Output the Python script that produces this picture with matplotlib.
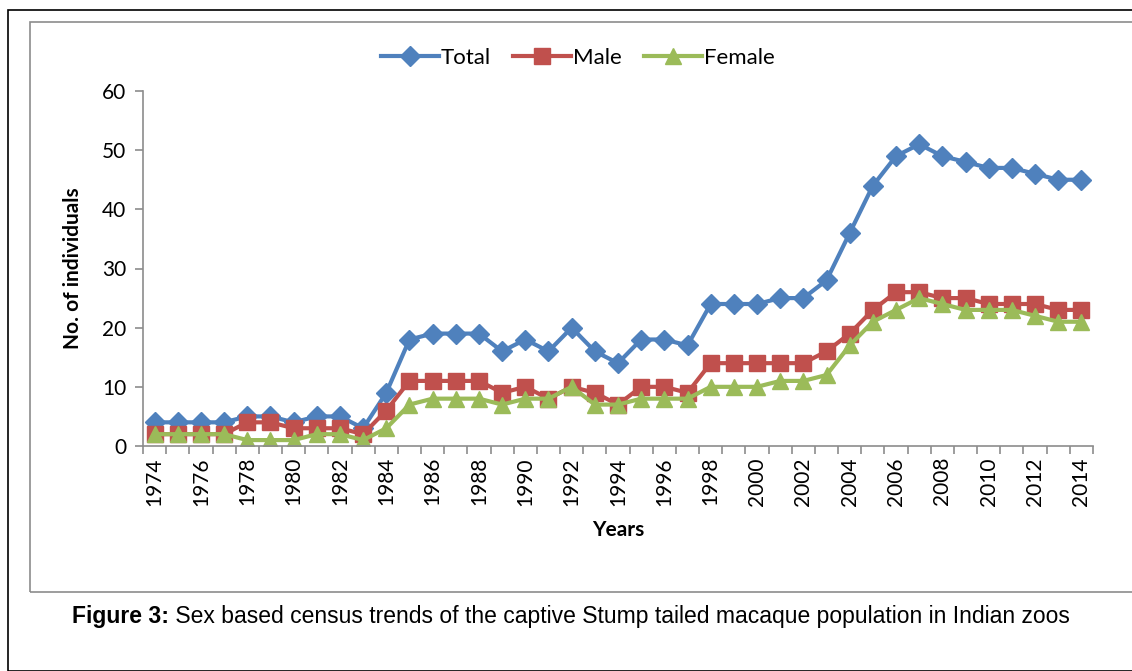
import matplotlib
matplotlib.use("Agg")
import matplotlib.pyplot as plt
from matplotlib.patches import Rectangle

# census data
years = list(range(1974, 2015))
total = [4, 4, 4, 4, 5, 5, 4, 5, 5, 3, 9, 18, 19, 19, 19, 16, 18, 16, 20, 16, 14,
         18, 18, 17, 24, 24, 24, 25, 25, 28, 36, 44, 49, 51, 49, 48, 47, 47, 46, 45, 45]
male = [2, 2, 2, 2, 4, 4, 3, 3, 3, 2, 6, 11, 11, 11, 11, 9, 10, 8, 10, 9, 7,
        10, 10, 9, 14, 14, 14, 14, 14, 16, 19, 23, 26, 26, 25, 25, 24, 24, 24, 23, 23]
female = [2, 2, 2, 2, 1, 1, 1, 2, 2, 1, 3, 7, 8, 8, 8, 7, 8, 8, 10, 7, 7,
          8, 8, 8, 10, 10, 10, 11, 11, 12, 17, 21, 23, 25, 24, 23, 23, 23, 22, 21, 21]
yticks = [0, 10, 20, 30, 40, 50, 60]

W, H = 1132, 671
plt.rcParams['font.family'] = ['Lato', 'DejaVu Sans']

fig = plt.figure(figsize=(W / 100, H / 100), dpi=100)

# outer frame and chart area frame
fig.patches.append(Rectangle((8 / W, 0), 1.2, (H - 10) / H, transform=fig.transFigure,
                             fill=False, edgecolor='black', linewidth=1.2))
fig.patches.append(Rectangle((30 / W, (H - 592) / H), 1.2, (592 - 22) / H,
                             transform=fig.transFigure, fill=False,
                             edgecolor='#8c8c8c', linewidth=1.2))

ax = fig.add_axes([143 / W, (H - 446) / H, (1093 - 143) / W, (446 - 91) / H])

ax.plot(years, total, color='#4F81BD', marker='D', markersize=10, linewidth=3, label='Total')
ax.plot(years, male, color='#C0504D', marker='s', markersize=11, linewidth=3, label='Male')
ax.plot(years, female, color='#9BBB59', marker='^', markersize=12, linewidth=3, label='Female')

ax.set_xlim(years[0] - 0.5, years[-1] + 0.5)
ax.set_ylim(0, 60)
ax.set_yticks(yticks)
ax.set_xticks([y - 0.5 for y in years] + [years[-1] + 0.5], minor=True)
ax.set_xticks(years[::2])
ax.set_xticklabels([str(y) for y in years[::2]], rotation=90, fontsize=15)
ax.tick_params(axis='x', which='major', length=0, pad=8)
ax.tick_params(axis='x', which='minor', length=6, color='#8c8c8c', width=1.2)
ax.tick_params(axis='y', length=6, color='#8c8c8c', width=1.2, labelsize=15, pad=6)

for s in ['top', 'right']:
    ax.spines[s].set_visible(False)
for s in ['left', 'bottom']:
    ax.spines[s].set_color('#8c8c8c')
    ax.spines[s].set_linewidth(1.2)

ax.set_ylabel('No. of individuals', fontsize=15, fontweight='bold', labelpad=14)
ax.set_xlabel('Years', fontsize=15, fontweight='bold', labelpad=10)

ax.legend(loc='center', bbox_to_anchor=(578 / W, (H - 58) / H), bbox_transform=fig.transFigure,
          ncol=3, frameon=False, fontsize=16, handlelength=2.6, columnspacing=1.0,
          handletextpad=0.1, borderaxespad=0)

# caption: bold lead-in followed by regular text
cap_font = ['Liberation Sans Narrow', 'Liberation Sans', 'DejaVu Sans']
cap_y = (H - 617) / H
t1 = fig.text(0, cap_y, 'Figure 3:', ha='left', va='center', fontsize=16.5,
              fontweight='bold', family=cap_font)
t2 = fig.text(0, cap_y, ' Sex based census trends of the captive Stump tailed macaque '
              'population in Indian zoos', ha='left', va='center', fontsize=16.5,
              family=cap_font)
fig.canvas.draw()
r = fig.canvas.get_renderer()
w1 = t1.get_window_extent(r).width
w2 = t2.get_window_extent(r).width
x0 = 571 - (w1 + w2) / 2
t1.set_x(x0 / W)
t2.set_x((x0 + w1) / W)

fig.savefig('out.png', dpi=100)
